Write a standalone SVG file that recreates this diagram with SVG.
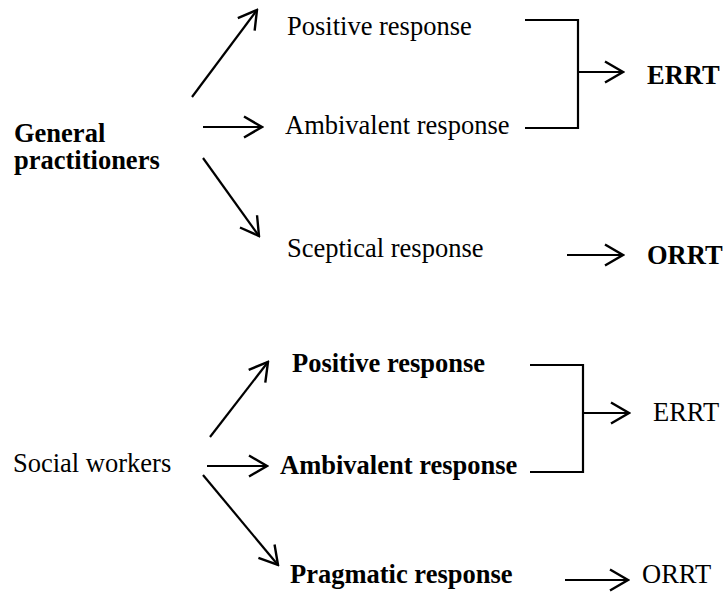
<svg xmlns="http://www.w3.org/2000/svg" width="723" height="592" viewBox="0 0 723 592">
<style>
text{font-family:"Liberation Serif","Times New Roman",serif;font-size:26.5px;fill:#000}
.b{font-weight:bold}
.c{stroke:#000;stroke-width:2.2;fill:none}
.a{marker-end:url(#ah)}
</style>
<defs>
<marker id="ah" markerUnits="userSpaceOnUse" viewBox="-22 -13 24 26" refX="0" refY="0" markerWidth="24" markerHeight="26" orient="auto">
<path d="M-18,-10.5 L0,0 L-18,10.5" fill="none" stroke="#000" stroke-width="2.4"/>
</marker>
</defs>
<g id="gp"><text class="b" x="14" y="141.5">General</text><text class="b" x="14" y="168.5">practitioners</text></g>
<g id="gp-pos"><text x="287" y="35">Positive response</text></g>
<g id="gp-amb"><text x="285" y="134">Ambivalent response</text></g>
<g id="gp-scep"><text x="287" y="257">Sceptical response</text></g>
<g id="gp-errt"><text class="b" x="647" y="84">ERRT</text></g>
<g id="gp-orrt"><text class="b" x="647" y="264">ORRT</text></g>
<g id="sw"><text x="13" y="472">Social workers</text></g>
<g id="sw-pos"><text class="b" x="292" y="372">Positive response</text></g>
<g id="sw-amb"><text class="b" x="280" y="474">Ambivalent response</text></g>
<g id="sw-prag"><text class="b" x="290" y="583">Pragmatic response</text></g>
<g id="sw-errt"><text x="653" y="421">ERRT</text></g>
<g id="sw-orrt"><text x="642" y="583">ORRT</text></g>
<g id="connectors">
<line class="c a" x1="192" y1="97" x2="257" y2="10"/>
<line class="c a" x1="203" y1="127" x2="262" y2="127"/>
<line class="c a" x1="203" y1="158" x2="259" y2="236"/>
<path class="c" d="M525,20 H578 V128 H525"/>
<line class="c a" x1="578" y1="72" x2="623" y2="72"/>
<line class="c a" x1="567" y1="255" x2="623" y2="255"/>
<line class="c a" x1="210" y1="437" x2="268" y2="362"/>
<line class="c a" x1="207" y1="466" x2="267" y2="466"/>
<line class="c a" x1="203" y1="475" x2="278" y2="565"/>
<path class="c" d="M530,365 H583 V472 H530"/>
<line class="c a" x1="583" y1="413" x2="629" y2="413"/>
<line class="c a" x1="565" y1="580" x2="628" y2="580"/>
</g>
</svg>
